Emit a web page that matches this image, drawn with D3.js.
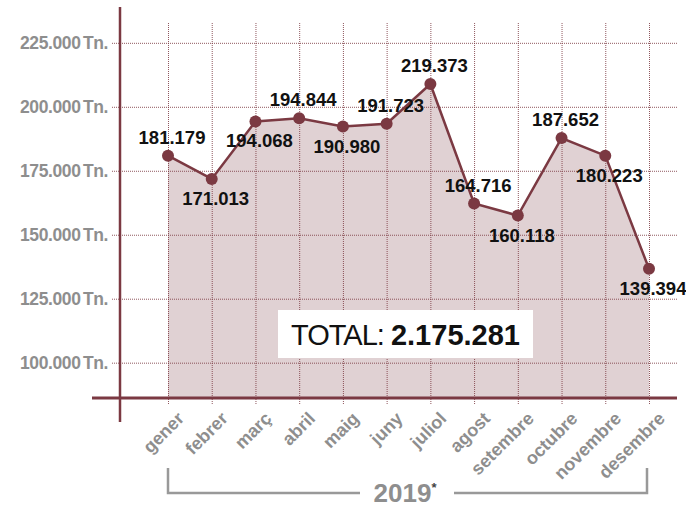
<!DOCTYPE html>
<html>
<head>
<meta charset="utf-8">
<script src="https://cdn.jsdelivr.net/npm/d3@7"></script>
<style>
  body { margin: 0; background: #fff; }
  svg { font-family: "Liberation Sans", Arial, Helvetica, sans-serif; display: block; }
</style>
</head>
<body>
<div id="chart"></div>
<script>
// months of 2019
var months = ["gener", "febrer", "març", "abril", "maig", "juny", "juliol", "agost", "setembre", "octubre", "novembre", "desembre"];
// values printed on the chart (tones)
var labelValues = [181179, 171013, 194068, 194844, 190980, 191723, 219373, 164716, 160118, 187652, 180223, 139394];
// where the points sit against the y axis in the picture
var plotValues = [180900, 171800, 194300, 195500, 192300, 193400, 208900, 162200, 157500, 187800, 180900, 136700];
var yTicks = [100000, 125000, 150000, 175000, 200000, 225000];
var total = 2175281;
var yearLabel = "2019";

// label above or below the point
var labelSide = ["up", "down", "down", "up", "down", "up", "up", "up", "down", "up", "down", "down"];

var W = 686, H = 509;
var maroon = "#7b3942";
var grey = "#8e8e8e";

var locale = d3.formatLocale({decimal: ",", thousands: ".", grouping: [3], currency: ["", ""]});
var fmt = locale.format(",d");

var svg = d3.select("#chart")
  .append("svg")
    .attr("width", W)
    .attr("height", H);

var x = d3.scalePoint()
  .domain(months)
  .range([168, 649]);

var y = d3.scaleLinear()
  .domain([86200, 239000])
  .range([398, 7]);

var data = months.map(function(m, i) {
  return {month: m, value: plotValues[i], label: labelValues[i], side: labelSide[i]};
});

// area
svg.append("path")
  .datum(data)
  .attr("fill", "#e0d1d3")
  .attr("d", d3.area()
    .x(function(d) { return x(d.month) })
    .y0(y(86200))
    .y1(function(d) { return y(d.value) }));

// horizontal gridlines + y labels
var yAxis = svg.append("g")
  .attr("transform", "translate(112,0)")
  .call(d3.axisLeft(y)
    .tickValues(yTicks)
    .tickSize(-(678 - 112))
    .tickPadding(4)
    .tickFormat(function(d) { return fmt(d) + " Tn."; }));
yAxis.select(".domain").remove();
yAxis.selectAll(".tick line")
  .attr("stroke", maroon)
  .attr("stroke-width", 1)
  .attr("stroke-dasharray", "1,1")
  .attr("opacity", 0.85);
yAxis.selectAll(".tick text")
  .attr("fill", grey)
  .attr("font-size", "17.5px")
  .attr("font-weight", "bold")
  .attr("letter-spacing", "-0.4px")
  .attr("word-spacing", "-2px");

// vertical gridlines + month labels
var xAxis = svg.append("g")
  .attr("transform", "translate(0,404)")
  .call(d3.axisBottom(x)
    .tickSize(-(404 - 22))
    .tickPadding(8));
xAxis.select(".domain").remove();
xAxis.selectAll(".tick line")
  .attr("stroke", maroon)
  .attr("stroke-width", 1)
  .attr("stroke-dasharray", "1,1")
  .attr("opacity", 0.85);
xAxis.selectAll(".tick text")
  .attr("fill", grey)
  .attr("font-size", "18px")
  .attr("font-weight", "bold")
  .attr("text-anchor", "end")
  .attr("transform", "translate(4,3) rotate(-45)")
  .attr("dy", "0.55em");

// axes
svg.append("line")
  .attr("x1", 120).attr("x2", 120)
  .attr("y1", 7).attr("y2", 422)
  .attr("stroke", maroon).attr("stroke-width", 2.5);
svg.append("line")
  .attr("x1", 92).attr("x2", 677)
  .attr("y1", y(86200)).attr("y2", y(86200))
  .attr("stroke", maroon).attr("stroke-width", 3);

// line and points
svg.append("path")
  .datum(data)
  .attr("fill", "none")
  .attr("stroke", maroon)
  .attr("stroke-width", 2.5)
  .attr("d", d3.line()
    .x(function(d) { return x(d.month) })
    .y(function(d) { return y(d.value) }));

svg.selectAll("circle.pt")
  .data(data)
  .enter()
  .append("circle")
    .attr("class", "pt")
    .attr("fill", maroon)
    .attr("cx", function(d) { return x(d.month) })
    .attr("cy", function(d) { return y(d.value) })
    .attr("r", 6);

svg.selectAll("text.val")
  .data(data)
  .enter()
  .append("text")
    .attr("class", "val")
    .attr("text-anchor", "middle")
    .attr("font-size", "18.5px")
    .attr("font-weight", "bold")
    .attr("fill", "#111")
    .attr("x", function(d) { return x(d.month) + 4 })
    .attr("y", function(d) { return y(d.value) + (d.side == "up" ? -12 : 26) })
    .text(function(d) { return fmt(d.label) });

// total box
svg.append("rect")
  .attr("x", 278).attr("y", 310)
  .attr("width", 255).attr("height", 48)
  .attr("fill", "#fff");
var totalText = svg.append("text")
  .attr("x", 405.5).attr("y", 345)
  .attr("text-anchor", "middle")
  .attr("fill", "#111")
  .attr("font-size", "29px");
totalText.append("tspan").attr("letter-spacing", "-1px").text("TOTAL: ");
totalText.append("tspan").attr("font-weight", "bold").text(fmt(total));

// year bracket
svg.append("path")
  .attr("fill", "none")
  .attr("stroke", "#999")
  .attr("stroke-width", 2.5)
  .attr("d", "M168,468V493H360M454,493H647V468");
var yearText = svg.append("text")
  .attr("x", 405).attr("y", 502)
  .attr("text-anchor", "middle")
  .attr("fill", grey)
  .attr("font-weight", "bold")
  .attr("font-size", "26px");
yearText.append("tspan").text(yearLabel);
yearText.append("tspan").attr("font-size", "13px").attr("dy", "-10").attr("fill", "#444").text("*");
</script>
</body>
</html>
